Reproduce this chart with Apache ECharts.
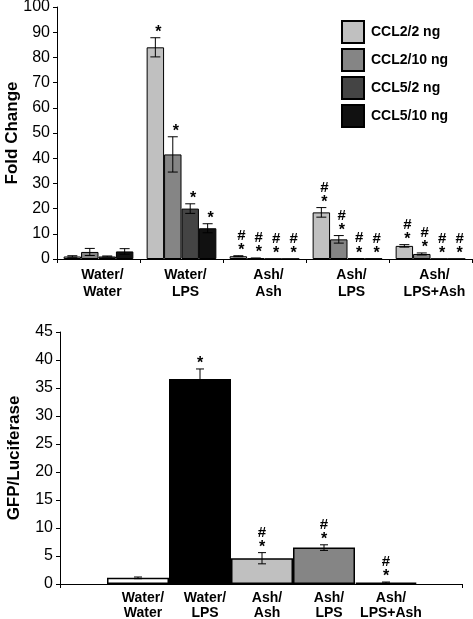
<!DOCTYPE html>
<html>
<head>
<meta charset="utf-8">
<script src="https://cdn.jsdelivr.net/npm/echarts@6/dist/echarts.min.js"></script>
<style>
html,body{margin:0;padding:0;background:#fff;}
#chart{width:473px;height:619px;}
</style>
</head>
<body>
<div id="chart"></div>
<script>
// ---------- Data: top chart ----------
const categories = ['Water/\nWater', 'Water/\nLPS', 'Ash/\nAsh', 'Ash/\nLPS', 'Ash/\nLPS+Ash'];
const seriesNames = ['CCL2/2 ng', 'CCL2/10 ng', 'CCL5/2 ng', 'CCL5/10 ng'];
const ccl2_2 = [1.0, 84.0, 1.1, 18.5, 5.2];
const ccl2_2Err = [0.3, 3.8, 0.2, 1.9, 0.5];
const ccl2_10 = [2.8, 41.5, 0.3, 7.8, 2.0];
const ccl2_10Err = [1.4, 7.0, 0.1, 1.5, 0.4];
const ccl5_2 = [1.0, 20.0, 0.1, 0.3, 0.1];
const ccl5_2Err = [0.2, 1.9, 0, 0, 0];
const ccl5_10 = [3.0, 12.2, 0.1, 0.2, 0.1];
const ccl5_10Err = [1.1, 1.8, 0, 0, 0];
const topMarks = ['', '*', '#*', '#*', '#*'];
const foldTicks = [0, 100, 10];

// ---------- Data: bottom chart ----------
const gfpValues = [1.1, 36.6, 4.6, 6.5, 0.25];
const gfpErr = [0.15, 1.8, 1.0, 0.5, 0.1];
const gfpMarks = ['', '*', '#*', '#*', '#*'];
const gfpTicks = [0, 45, 5];

// ---------- Styles ----------
const topColors = ['#c0c0c0', '#858585', '#444444', '#111111'];
const botColors = ['#ffffff', '#000000', '#c0c0c0', '#858585', '#000000'];
const FONT = '"Liberation Sans", Arial, Helvetica, sans-serif';

const values = [ccl2_2, ccl2_10, ccl5_2, ccl5_10];
const errs = [ccl2_2Err, ccl2_10Err, ccl5_2Err, ccl5_10Err];

const topErrData = [];
values.forEach((arr, s) => arr.forEach((v, c) => topErrData.push([c, v, s, errs[s][c]])));
const botErrData = gfpValues.map((v, c) => [c, v, 0, gfpErr[c]]);

function markEls(x, yTop, mark) {
  const els = [];
  if (!mark) return els;
  const starY = yTop - 8;
  const hashY = starY - 12;
  if (mark.indexOf('*') >= 0) {
    els.push({type: 'text', style: {text: '*', x: x, y: starY + 3, align: 'center', verticalAlign: 'middle',
      fontSize: 16, fontWeight: 'bold', fontFamily: FONT, fill: '#000'}});
  }
  if (mark.indexOf('#') >= 0) {
    els.push({type: 'text', style: {text: '#', x: x, y: hashY, align: 'center', verticalAlign: 'middle',
      fontSize: 15, fontWeight: 'bold', fontFamily: FONT, fill: '#000'}});
  }
  return els;
}

function makeRender(nSeries, gapFrac, capW, marksFor, markDx) {
  return function (params, api) {
    const cat = api.value(0), val = api.value(1), si = api.value(2), err = api.value(3);
    const c = api.coord([cat, val]);
    const catW = api.size([1, 0])[0];
    const bw = catW * (1 - gapFrac) / nSeries;
    const x = c[0] + (si - (nSeries - 1) / 2) * bw;
    const yTop = api.coord([cat, val + err])[1];
    const yBot = api.coord([cat, Math.max(val - err, 0)])[1];
    const children = [];
    if (err > 0) {
      const ls = {stroke: '#000', lineWidth: 1};
      children.push({type: 'line', shape: {x1: x, y1: yTop, x2: x, y2: yBot}, style: ls});
      children.push({type: 'line', shape: {x1: x - capW / 2, y1: yTop, x2: x + capW / 2, y2: yTop}, style: ls});
      children.push({type: 'line', shape: {x1: x - capW / 2, y1: yBot, x2: x + capW / 2, y2: yBot}, style: ls});
    }
    const m = marksFor(si, cat);
    return {type: 'group', children: children.concat(markEls(x + markDx, Math.min(yTop, c[1]), m))};
  };
}

const axisCommon = {
  axisLine: {show: true, lineStyle: {color: '#000', width: 1}},
  axisTick: {show: true, length: 4, lineStyle: {color: '#000'}},
  splitLine: {show: false}
};

const option = {
  animation: false,
  backgroundColor: '#fff',
  legend: {
    data: seriesNames,
    orient: 'vertical',
    left: 341,
    top: 20,
    padding: 0,
    icon: 'rect',
    itemWidth: 22,
    itemHeight: 22,
    itemGap: 4,
    textStyle: {fontFamily: FONT, fontSize: 14, fontWeight: 'bold', color: '#000', padding: [0, 0, 0, 2]}
  },
  grid: [
    {left: 57, right: 1, top: 7, bottom: 360, outerBoundsMode: 'none', containLabel: false},
    {left: 60, right: 11, top: 332, bottom: 35, outerBoundsMode: 'none', containLabel: false},
    {left: 107, right: 56, top: 332, bottom: 35, outerBoundsMode: 'none', containLabel: false}
  ],
  xAxis: [
    Object.assign({}, axisCommon, {
      gridIndex: 0, type: 'category', data: categories, boundaryGap: true,
      axisTick: {show: true, length: 4, alignWithLabel: false, lineStyle: {color: '#000'}},
      axisLabel: {fontFamily: FONT, fontSize: 14, fontWeight: 'bold', color: '#000', lineHeight: 17,
        margin: 8, interval: 0, padding: [0, 0, 0, 8]}
    }),
    Object.assign({}, axisCommon, {
      gridIndex: 1, type: 'value', min: 0, max: 1, interval: 1,
      axisLabel: {show: false}
    }),
    {
      gridIndex: 2, type: 'category', data: categories, boundaryGap: true,
      axisLine: {show: false}, axisTick: {show: false}, splitLine: {show: false},
      axisLabel: {fontFamily: FONT, fontSize: 14, fontWeight: 'bold', color: '#000', lineHeight: 15,
        margin: 7, interval: 0, padding: [0, 0, 0, 10]}
    }
  ],
  yAxis: [
    Object.assign({}, axisCommon, {
      gridIndex: 0, type: 'value', min: foldTicks[0], max: foldTicks[1], interval: foldTicks[2],
      name: 'Fold Change', nameLocation: 'middle', nameGap: 36, nameMoveOverlap: false,
      nameTextStyle: {fontFamily: FONT, fontSize: 17, fontWeight: 'bold', color: '#000'},
      axisLabel: {fontFamily: FONT, fontSize: 16, color: '#000', margin: 7}
    }),
    Object.assign({}, axisCommon, {
      gridIndex: 1, type: 'value', min: gfpTicks[0], max: gfpTicks[1], interval: gfpTicks[2],
      name: 'GFP/Luciferase', nameLocation: 'middle', nameGap: 37, nameMoveOverlap: false,
      nameTextStyle: {fontFamily: FONT, fontSize: 17, fontWeight: 'bold', color: '#000'},
      axisLabel: {fontFamily: FONT, fontSize: 16, color: '#000', margin: 7}
    }),
    {gridIndex: 2, type: 'value', min: gfpTicks[0], max: gfpTicks[1], interval: gfpTicks[2], show: false}
  ],
  series: [
    ...values.map((arr, s) => ({
      name: seriesNames[s], type: 'bar', xAxisIndex: 0, yAxisIndex: 0,
      data: arr, barGap: '0%', barCategoryGap: '16%',
      itemStyle: {color: topColors[s], borderColor: '#000', borderWidth: 1}
    })),
    {
      type: 'custom', xAxisIndex: 0, yAxisIndex: 0, data: topErrData, z: 5,
      renderItem: makeRender(4, 0.16, 10, (si, c) => topMarks[c], 3)
    },
    {
      type: 'bar', xAxisIndex: 2, yAxisIndex: 2, barWidth: '100%',
      data: gfpValues.map((v, i) => ({value: v, itemStyle: {color: botColors[i]}})),
      itemStyle: {borderColor: '#000', borderWidth: 1.5}
    },
    {
      type: 'custom', xAxisIndex: 2, yAxisIndex: 2, data: botErrData, z: 5,
      renderItem: makeRender(1, 0, 8, (si, c) => gfpMarks[c], 0)
    }
  ]
};

const chart = echarts.init(document.getElementById('chart'), null, {renderer: 'canvas'});
chart.setOption(option);
</script>
</body>
</html>
